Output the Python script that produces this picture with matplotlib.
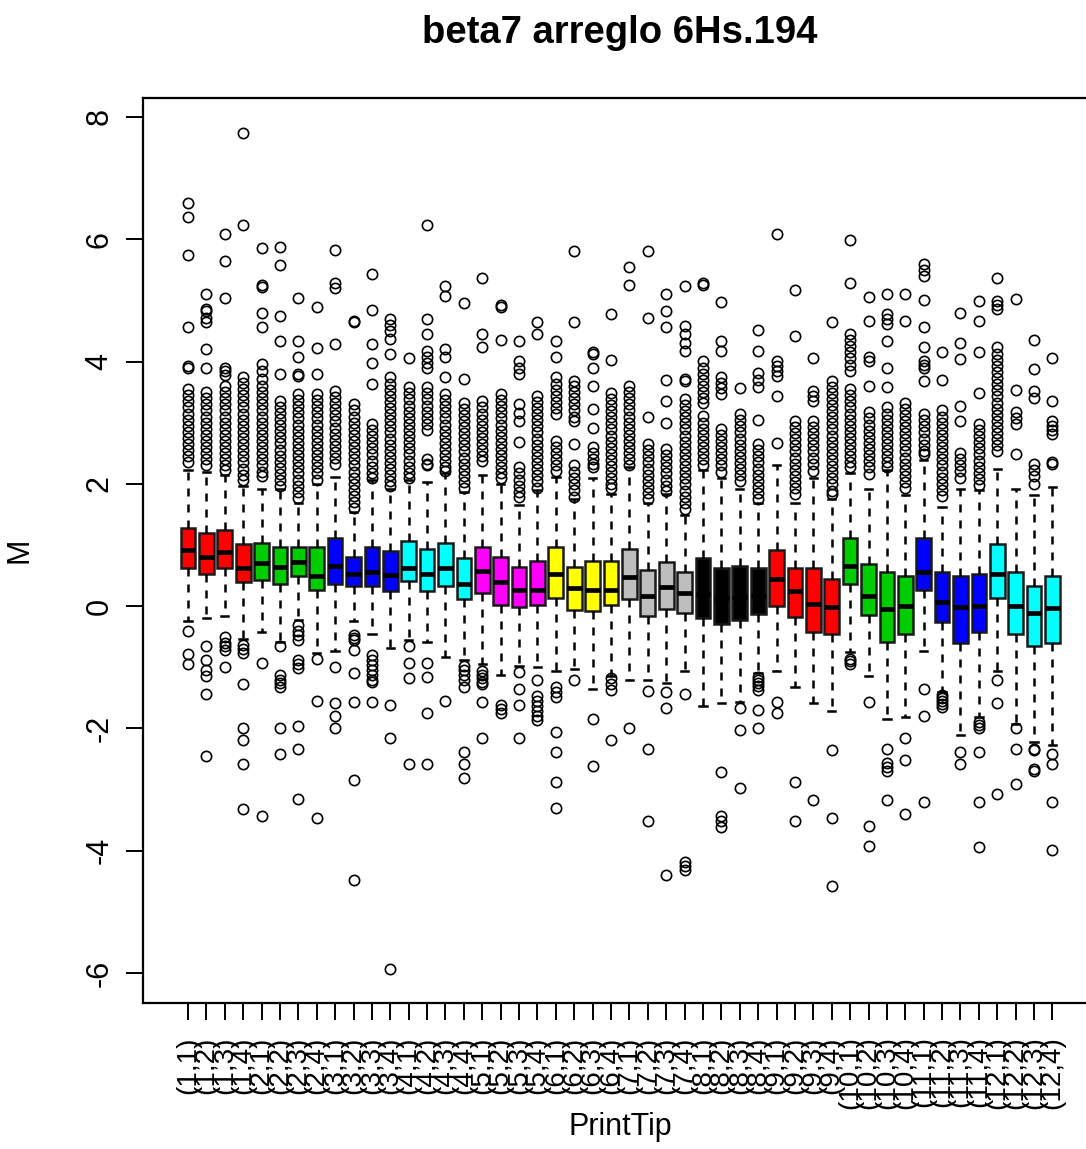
import matplotlib
matplotlib.use("Agg")
import matplotlib.pyplot as plt
import numpy as np


plt.rcParams["font.family"] = ["Liberation Sans", "DejaVu Sans"]

TITLE = "beta7 arreglo 6Hs.194"

# print-tip groups: 12 blocks x 4 tips
groups = [f"({b},{t})" for b in range(1, 13) for t in range(1, 5)]
block_colors = ["#FF0000", "#00CD00", "#0000FF", "#00FFFF", "#FF00FF", "#FFFF00",
                "#BEBEBE", "#000000", "#FF0000", "#00CD00", "#0000FF", "#00FFFF"]

q1 = [0.63, 0.53, 0.63, 0.40, 0.42, 0.36, 0.50, 0.27, 0.37, 0.33, 0.33, 0.25,
      0.41, 0.25, 0.33, 0.11, 0.21, 0.02, -0.02, 0.02, 0.14, -0.07, -0.08, 0.02,
      0.11, -0.16, -0.05, -0.12, -0.19, -0.29, -0.23, -0.13, 0.01, -0.18, -0.42, -0.45,
      0.37, -0.15, -0.58, -0.45, 0.27, -0.26, -0.61, -0.42, 0.14, -0.45, -0.66, -0.61]
medians = [0.92, 0.80, 0.88, 0.63, 0.71, 0.64, 0.72, 0.50, 0.65, 0.53, 0.56, 0.51,
           0.63, 0.53, 0.63, 0.37, 0.57, 0.40, 0.26, 0.27, 0.52, 0.30, 0.26, 0.27,
           0.47, 0.17, 0.31, 0.21, 0.20, 0.13, 0.15, 0.17, 0.44, 0.25, 0.04, -0.02,
           0.66, 0.17, -0.04, 0.00, 0.56, 0.07, -0.02, 0.00, 0.53, 0.00, -0.12, -0.03]
q3 = [1.27, 1.20, 1.24, 1.01, 1.04, 0.97, 0.97, 0.97, 1.11, 0.81, 0.97, 0.90,
      1.07, 0.93, 1.04, 0.78, 0.97, 0.81, 0.64, 0.74, 0.97, 0.64, 0.74, 0.74,
      0.94, 0.59, 0.72, 0.56, 0.79, 0.63, 0.66, 0.63, 0.92, 0.62, 0.62, 0.45,
      1.11, 0.69, 0.55, 0.49, 1.11, 0.56, 0.49, 0.52, 1.01, 0.56, 0.33, 0.49]
whisker_low = [-0.25, -0.19, -0.16, -0.53, -0.42, -0.58, -0.23, -0.77, -0.73, -0.25, -0.45, -0.68,
               -0.56, -0.58, -0.84, -0.88, -0.95, -1.13, -0.98, -0.99, -1.06, -1.03, -1.36, -1.15,
               -1.20, -1.20, -1.26, -1.06, -1.63, -1.58, -1.56, -1.09, -1.06, -1.32, -1.59, -1.72,
               -0.75, -1.15, -1.85, -1.81, -0.74, -1.40, -2.11, -1.81, -1.06, -1.92, -2.22, -2.27]
whisker_high = [2.22, 2.19, 2.14, 1.96, 1.92, 1.92, 1.68, 2.00, 2.11, 1.54, 2.06, 1.92,
                2.06, 2.03, 2.17, 1.87, 2.14, 2.00, 1.65, 1.90, 2.11, 1.76, 2.09, 1.84,
                2.28, 1.68, 1.84, 1.49, 2.22, 2.09, 1.92, 1.68, 2.30, 1.68, 2.09, 1.76,
                2.17, 1.92, 2.22, 1.81, 2.39, 1.62, 1.92, 1.90, 2.25, 1.92, 1.81, 1.95]

upper_outliers = [
    [6.6, 6.37, 5.75, 4.57, 3.93, 3.9, 3.55, 3.45, 3.35, 3.25, 3.15, 3.05, 2.95, 2.85, 2.75, 2.65, 2.55, 2.45, 2.35],
    [5.1, 4.86, 4.83, 4.72, 4.64, 4.2, 3.9, 3.5, 3.4, 3.3, 3.2, 3.1, 3.0, 2.9, 2.8, 2.7, 2.6, 2.5, 2.4, 2.3],
    [6.08, 5.65, 5.04, 3.9, 3.84, 3.78, 3.6, 3.5, 3.4, 3.3, 3.2, 3.1, 3.0, 2.9, 2.8, 2.7, 2.6, 2.5, 2.4, 2.3, 2.22],
    [7.73, 6.23, 3.74, 3.65, 3.55, 3.45, 3.35, 3.25, 3.15, 3.05, 2.95, 2.85, 2.75, 2.65, 2.55, 2.45, 2.35, 2.25, 2.15, 2.07],
    [5.85, 5.26, 5.22, 4.8, 4.57, 3.96, 3.85, 3.72, 3.6, 3.5, 3.4, 3.3, 3.2, 3.1, 3.0, 2.9, 2.8, 2.7, 2.6, 2.5, 2.4, 2.3, 2.2, 2.12],
    [5.88, 5.58, 4.75, 4.34, 3.79, 3.36, 3.26, 3.16, 3.06, 2.96, 2.86, 2.76, 2.66, 2.56, 2.46, 2.36, 2.26, 2.16, 2.06, 1.97],
    [5.04, 4.34, 4.07, 3.79, 3.77, 3.47, 3.37, 3.27, 3.17, 3.07, 2.97, 2.87, 2.77, 2.67, 2.57, 2.47, 2.37, 2.27, 2.17, 2.07, 1.97, 1.87, 1.77],
    [4.9, 4.22, 3.79, 3.47, 3.37, 3.27, 3.17, 3.07, 2.97, 2.87, 2.77, 2.67, 2.57, 2.47, 2.37, 2.27, 2.17, 2.07],
    [5.82, 5.29, 5.2, 4.28, 3.52, 3.42, 3.32, 3.22, 3.12, 3.02, 2.92, 2.82, 2.72, 2.62, 2.52, 2.42, 2.32],
    [4.67, 4.64, 3.3, 3.2, 3.1, 3.0, 2.9, 2.8, 2.7, 2.6, 2.5, 2.4, 2.3, 2.2, 2.1, 2.0, 1.9, 1.8, 1.7, 1.6],
    [5.43, 4.84, 4.28, 3.98, 3.63, 2.98, 2.88, 2.78, 2.68, 2.58, 2.48, 2.38, 2.28, 2.18, 2.1],
    [4.69, 4.6, 4.5, 4.37, 4.12, 3.74, 3.64, 3.54, 3.44, 3.34, 3.24, 3.14, 3.04, 2.94, 2.84, 2.74, 2.64, 2.54, 2.44, 2.34, 2.24, 2.14, 2.04, 1.96],
    [4.06, 3.58, 3.48, 3.38, 3.28, 3.18, 3.08, 2.98, 2.88, 2.78, 2.68, 2.58, 2.48, 2.38, 2.28, 2.18, 2.1],
    [6.23, 4.69, 4.45, 4.18, 4.08, 3.98, 3.9, 3.58, 3.48, 3.38, 3.28, 3.18, 3.08, 2.98, 2.88, 2.4, 2.33, 2.3],
    [5.24, 5.07, 4.2, 4.07, 3.74, 3.47, 3.37, 3.27, 3.17, 3.07, 2.97, 2.87, 2.77, 2.67, 2.57, 2.47, 2.37, 2.27, 2.21],
    [4.95, 3.71, 3.33, 3.23, 3.13, 3.03, 2.93, 2.83, 2.73, 2.63, 2.53, 2.43, 2.33, 2.23, 2.13, 2.03, 1.93],
    [5.37, 4.45, 4.23, 3.35, 3.25, 3.15, 3.05, 2.95, 2.85, 2.75, 2.65, 2.55, 2.45, 2.38],
    [4.93, 4.9, 4.35, 3.47, 3.37, 3.27, 3.17, 3.07, 2.97, 2.87, 2.77, 2.67, 2.57, 2.47, 2.37, 2.27, 2.17, 2.1],
    [4.34, 4.01, 3.9, 3.79, 3.3, 3.16, 3.03, 2.68, 2.27, 2.17, 2.07, 1.97, 1.87, 1.78],
    [4.64, 4.45, 3.44, 3.34, 3.24, 3.14, 3.04, 2.94, 2.84, 2.74, 2.64, 2.54, 2.44, 2.34, 2.24, 2.14, 2.04, 1.94],
    [4.34, 4.07, 3.74, 3.64, 3.54, 3.44, 3.34, 3.24, 3.14, 2.7, 2.6, 2.5, 2.4, 2.3, 2.21],
    [5.81, 4.64, 3.69, 3.6, 3.5, 3.4, 3.3, 3.2, 3.1, 3.03, 2.65, 2.3, 2.2, 2.1, 2.0, 1.9, 1.78],
    [4.15, 4.13, 3.9, 3.6, 3.22, 2.92, 2.6, 2.5, 2.4, 2.32, 2.27],
    [4.77, 4.02, 3.49, 3.39, 3.29, 3.19, 3.09, 2.99, 2.89, 2.79, 2.69, 2.59, 2.49, 2.39, 2.29, 2.19, 2.09, 1.99, 1.94],
    [5.54, 5.26, 3.6, 3.5, 3.4, 3.3, 3.2, 3.1, 3.0, 2.9, 2.8, 2.7, 2.6, 2.5, 2.4, 2.3],
    [5.81, 4.71, 3.09, 2.65, 2.55, 2.45, 2.35, 2.25, 2.15, 2.05, 1.95, 1.85, 1.75],
    [5.1, 4.83, 4.56, 3.7, 3.36, 3.0, 2.57, 2.47, 2.37, 2.27, 2.17, 2.07, 1.97, 1.89],
    [5.24, 4.58, 4.45, 4.3, 4.18, 3.71, 3.69, 3.39, 3.29, 3.19, 3.09, 2.99, 2.89, 2.79, 2.69, 2.59, 2.49, 2.39, 2.29, 2.19, 2.09, 1.99, 1.89, 1.79, 1.69, 1.59],
    [5.25, 5.28, 4.01, 3.9, 3.8, 3.7, 3.6, 3.5, 3.4, 3.33, 3.11, 3.0, 2.9, 2.8, 2.7, 2.6, 2.5, 2.4, 2.3],
    [4.97, 4.34, 4.18, 3.74, 3.65, 3.56, 3.47, 2.9, 2.8, 2.7, 2.6, 2.5, 2.4, 2.3, 2.2],
    [3.57, 3.14, 3.04, 2.94, 2.84, 2.74, 2.64, 2.54, 2.44, 2.34, 2.24, 2.14, 2.05],
    [4.51, 4.18, 3.82, 3.7, 3.58, 3.04, 2.65, 2.55, 2.45, 2.35, 2.25, 2.15, 2.05, 1.95, 1.85, 1.75],
    [6.08, 4.01, 3.92, 3.84, 3.77, 3.44, 2.66],
    [5.17, 4.41, 3.03, 2.93, 2.83, 2.73, 2.63, 2.53, 2.43, 2.33, 2.23, 2.13, 2.03, 1.93, 1.83],
    [4.06, 3.52, 3.44, 3.36, 3.03, 2.93, 2.83, 2.73, 2.63, 2.53, 2.43, 2.33, 2.21],
    [4.65, 3.69, 3.59, 3.49, 3.39, 3.29, 3.19, 3.09, 2.99, 2.89, 2.79, 2.69, 2.59, 2.49, 2.39, 2.29, 2.19, 2.09, 1.99, 1.89, 1.83],
    [5.98, 5.29, 4.45, 4.35, 4.25, 4.15, 4.05, 3.95, 3.85, 3.55, 3.45, 3.35, 3.25, 3.15, 3.05, 2.95, 2.85, 2.75, 2.65, 2.55, 2.45, 2.35, 2.27],
    [5.06, 4.67, 4.07, 4.01, 3.6, 3.17, 3.07, 2.97, 2.87, 2.77, 2.67, 2.57, 2.47, 2.37, 2.27, 2.16],
    [5.1, 4.77, 4.69, 4.61, 4.34, 3.9, 3.58, 3.25, 3.15, 3.05, 2.95, 2.85, 2.75, 2.65, 2.55, 2.45, 2.35, 2.27],
    [5.1, 4.67, 3.33, 3.23, 3.13, 3.03, 2.93, 2.83, 2.73, 2.63, 2.53, 2.43, 2.33, 2.23, 2.13, 2.03, 1.94],
    [5.59, 5.5, 5.4, 5.0, 4.57, 4.23, 4.01, 3.95, 3.9, 3.69, 3.14, 3.04, 2.94, 2.84, 2.74, 2.64, 2.54, 2.49],
    [4.15, 3.7, 3.2, 3.1, 3.0, 2.9, 2.8, 2.7, 2.6, 2.5, 2.4, 2.3, 2.2, 2.1, 2.0, 1.9, 1.8],
    [4.8, 4.31, 4.04, 3.28, 3.03, 2.51, 2.41, 2.31, 2.21, 2.1],
    [4.99, 4.67, 4.15, 3.49, 2.98, 2.88, 2.78, 2.68, 2.58, 2.48, 2.38, 2.28, 2.18, 2.08, 1.98],
    [5.36, 4.99, 4.93, 4.86, 4.23, 4.13, 4.03, 3.93, 3.83, 3.73, 3.63, 3.53, 3.43, 3.33, 3.23, 3.13, 3.03, 2.93, 2.83, 2.73, 2.63, 2.54],
    [5.03, 3.53, 3.17, 3.07, 2.98, 2.49],
    [4.35, 3.88, 3.52, 3.41, 2.32, 2.22, 2.12, 2.0],
    [4.06, 3.36, 3.03, 2.95, 2.88, 2.81, 2.35, 2.32],
]

lower_outliers = [
    [-0.4, -0.78, -0.95],
    [-0.65, -0.88, -1.05, -1.14, -1.44, -2.45],
    [-0.5, -0.61, -0.66, -0.72, -0.99],
    [-0.64, -0.7, -0.77, -1.28, -1.99, -2.19, -2.58, -3.32],
    [-0.93, -3.43],
    [-0.66, -1.13, -1.2, -1.26, -1.32, -2.0, -2.42],
    [-0.31, -0.4, -0.48, -0.56, -0.88, -0.95, -1.02, -1.96, -2.33, -3.16],
    [-0.86, -1.55, -3.46],
    [-0.99, -1.58, -1.79, -2.0],
    [-0.47, -0.52, -0.56, -0.72, -1.09, -1.57, -2.84, -4.48],
    [-0.8, -0.88, -0.96, -1.04, -1.12, -1.2, -1.24, -1.57],
    [-1.61, -2.16, -5.94],
    [-0.65, -0.93, -1.17, -2.58],
    [-0.93, -1.16, -1.74, -2.58],
    [-1.55],
    [-0.98, -1.05, -1.12, -1.2, -1.32, -2.38, -2.58, -2.81],
    [-1.06, -1.12, -1.18, -1.24, -1.28, -1.57, -2.16],
    [-1.62, -1.68, -1.75],
    [-1.07, -1.35, -1.61, -2.16],
    [-1.2, -1.47, -1.55, -1.63, -1.71, -1.79, -1.87],
    [-1.32, -1.4, -1.48, -2.06, -2.39, -2.88, -3.3],
    [-1.21],
    [-1.84, -2.61],
    [-1.17, -1.27, -1.37, -2.19],
    [-2.0],
    [-1.39, -2.33, -3.52],
    [-1.4, -1.67, -4.4],
    [-1.44, -4.19, -4.25, -4.31],
    [],
    [-2.71, -3.44, -3.52, -3.61],
    [-1.67, -2.03, -2.97],
    [-1.16, -1.2, -1.25, -1.3, -1.37, -1.7, -2.0],
    [-1.56, -1.74],
    [-2.87, -3.52],
    [-3.17],
    [-2.35, -3.46, -4.57],
    [-0.86, -0.9, -0.95],
    [-1.57, -3.6, -3.92],
    [-2.33, -2.57, -2.63, -2.7, -3.17],
    [-2.16, -2.52, -3.4],
    [-1.35, -1.8, -3.21],
    [-1.45, -1.5, -1.55, -1.6, -1.65],
    [-2.38, -2.58],
    [-1.89, -1.95, -2.0, -2.38, -3.21, -3.94],
    [-1.21, -1.58, -3.07],
    [-2.0, -2.33, -2.91],
    [-2.33, -2.36, -2.67, -2.7],
    [-2.42, -2.58, -3.21, -3.99],
]

y_ticks = [-6, -4, -2, 0, 2, 4, 6, 8]


def main():
    fig = plt.figure(figsize=(10.86, 11.49), dpi=100)
    # plot region runs past the right edge, as in the original (cropped) picture
    ax = fig.add_axes([0.1321, 0.1271, 0.878, 0.7876])

    stats = []
    for i in range(len(groups)):
        stats.append(dict(
            med=medians[i], q1=q1[i], q3=q3[i],
            whislo=whisker_low[i], whishi=whisker_high[i],
            fliers=np.array(upper_outliers[i] + lower_outliers[i]),
        ))

    positions = np.arange(1, len(groups) + 1)
    bp = ax.bxp(
        stats, positions=positions, widths=0.8, capwidths=0.4,
        patch_artist=True,
        boxprops=dict(edgecolor="#1a1a1a", linewidth=1.8),
        medianprops=dict(color="black", linewidth=3.4, solid_capstyle="butt"),
        whiskerprops=dict(color="black", linewidth=1.8, linestyle=(0, (3.2, 3.2))),
        capprops=dict(color="black", linewidth=1.8),
        flierprops=dict(marker="o", markerfacecolor="none", markeredgecolor="black",
                        markersize=7.4, markeredgewidth=1.2, linestyle="none"),
    )

    colors = [block_colors[i // 4] for i in range(len(groups))]
    for patch, c in zip(bp["boxes"], colors):
        patch.set_facecolor(c)

    ax.set_xlim(-1.42, 50.42)
    ax.set_ylim(-6.49, 8.31)

    ax.set_xticks(positions)
    ax.set_xticklabels(groups, rotation=90, fontsize=20)
    ax.set_yticks(y_ticks)
    ax.set_yticklabels([str(v) for v in y_ticks], rotation=90, va="center", fontsize=22)

    ax.tick_params(axis="both", length=12, width=1.4, color="black")
    ax.tick_params(axis="x", pad=12)
    ax.tick_params(axis="y", pad=9)

    for spine in ax.spines.values():
        spine.set_linewidth(1.6)
        spine.set_color("black")

    ax.set_xlabel("PrintTip", fontsize=22)
    ax.xaxis.set_label_coords(0.5, -0.12)
    ax.set_ylabel("M", fontsize=22)
    ax.yaxis.set_label_coords(-0.114, 0.5)

    ax.text(0.5, 1.0 + 55 / 905, TITLE, transform=ax.transAxes,
            ha="center", va="baseline", fontsize=27.5, fontweight="bold")

    fig.savefig("out.png", dpi=100)
    plt.close(fig)


if __name__ == "__main__":
    main()
